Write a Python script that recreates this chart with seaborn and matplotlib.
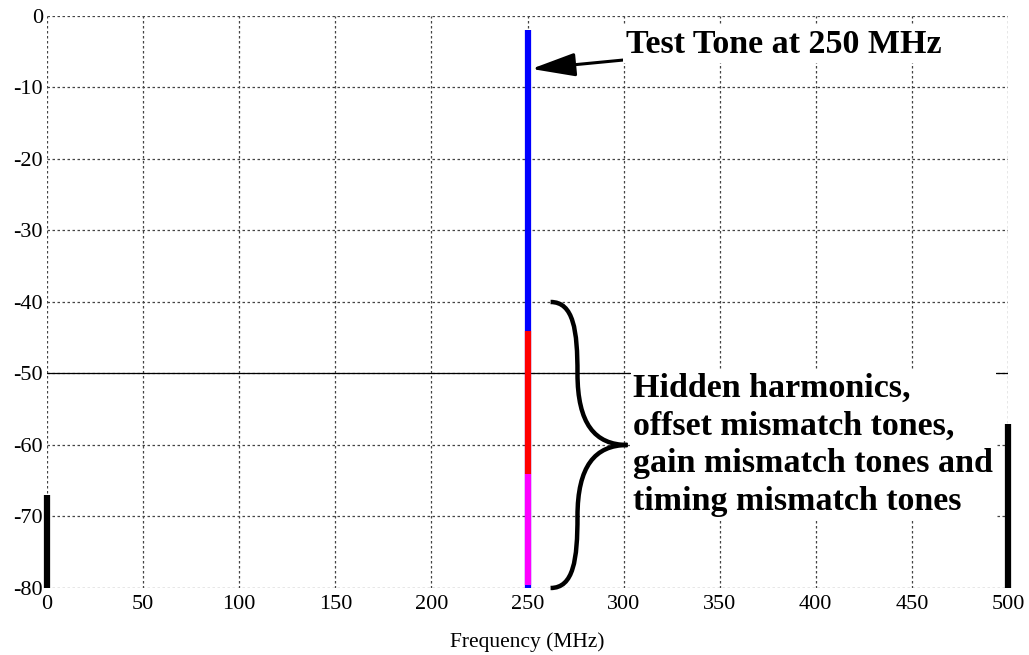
import numpy as np
import pandas as pd
import matplotlib.pyplot as plt
import seaborn as sns
from matplotlib.path import Path
from matplotlib.patches import PathPatch

# spectrum pieces (dB)
tone_freq = 250
seg_names = ["tone", "hidden", "mismatch"]
seg_top = [-2, -44, -64]
seg_bottom = [-80, -64, -79.6]
seg_colors = ["blue", "red", "magenta"]

edge_freqs = [0, 500]
edge_tops = [-67, -57]
floor_db = -80

x_ticks = list(range(0, 501, 50))
y_ticks = list(range(-80, 1, 10))

sns.set_theme(style="white")
plt.rcParams["font.family"] = ["Liberation Serif", "DejaVu Serif"]
plt.rcParams["axes.unicode_minus"] = False
plt.rcParams["text.color"] = "black"
plt.rcParams["xtick.color"] = "black"
plt.rcParams["ytick.color"] = "black"
plt.rcParams["axes.labelcolor"] = "black"

rows = []
for name, top, bot in zip(seg_names, seg_top, seg_bottom):
    rows.append({"freq": tone_freq, "level": top, "component": name})
    rows.append({"freq": tone_freq, "level": bot, "component": name})
df = pd.DataFrame(rows)

edge_rows = []
for f, top in zip(edge_freqs, edge_tops):
    edge_rows.append({"freq": f, "level": top, "bin": str(f)})
    edge_rows.append({"freq": f, "level": floor_db, "bin": str(f)})
df_edge = pd.DataFrame(edge_rows)

fig = plt.figure(figsize=(10.29, 6.55), dpi=100)
ax = fig.add_axes([0.0457, 0.1023, 0.9339, 0.8733])

sns.lineplot(data=df, x="freq", y="level", hue="component", orient="y",
             palette=dict(zip(seg_names, seg_colors)), linewidth=4.5,
             legend=False, ax=ax, zorder=4, estimator=None, sort=False)
sns.lineplot(data=df_edge, x="freq", y="level", units="bin", estimator=None,
             color="black", linewidth=4.5, legend=False, ax=ax, zorder=6)
for line in ax.get_lines():
    line.set_clip_on(False)
    line.set_solid_capstyle("butt")

ax.axhline(-50, color="black", linewidth=0.9, zorder=2)

ax.set_xlim(0, 500)
ax.set_ylim(-80, 0)
ax.set_xticks(x_ticks)
ax.set_yticks(y_ticks)
ax.tick_params(labelsize=16, length=0)
ax.tick_params(axis="x", pad=5)
ax.tick_params(axis="y", pad=3)
ax.grid(True, color="#444444", linestyle=(0, (2, 2)), linewidth=0.9)
for s in ax.spines.values():
    s.set_visible(False)
ax.set_xlabel("Frequency (MHz)", fontsize=15.5, labelpad=13)
ax.set_ylabel("")

# curly brace
bx0, bx1, bx2 = 262, 276, 302
ytop, ymid, ybot = -40, -60, -80
verts = [(bx0, ytop), (bx1 - 2, ytop), (bx1, ytop - 4), (bx1, -50),
         (bx1, -57), (bx1 + 9, ymid), (bx2, ymid),
         (bx1 + 9, ymid), (bx1, -63), (bx1, -70),
         (bx1, ybot + 4), (bx1 - 2, ybot), (bx0, ybot)]
codes = [Path.MOVETO] + [Path.CURVE4] * 12
ax.add_patch(PathPatch(Path(verts, codes), fill=False, lw=3.2,
                       edgecolor="black", zorder=5, clip_on=False))

ax.annotate("Test Tone at 250 MHz", xy=(252, -7.4), xytext=(301, -4),
            fontsize=24.5, fontweight="bold", ha="left", va="center",
            bbox=dict(facecolor="white", edgecolor="none", pad=2),
            arrowprops=dict(arrowstyle="-|>,head_length=1.35,head_width=0.36",
                            mutation_scale=20, color="black", lw=2.2,
                            shrinkA=0, shrinkB=0),
            zorder=7)

ax.text(305, -60, "Hidden harmonics,\noffset mismatch tones,\ngain mismatch tones and\ntiming mismatch tones",
        fontsize=24.5, fontweight="bold", ha="left", va="center", linespacing=1.28,
        bbox=dict(facecolor="white", edgecolor="none", pad=2), zorder=5)

fig.savefig("out.png", dpi=100)
